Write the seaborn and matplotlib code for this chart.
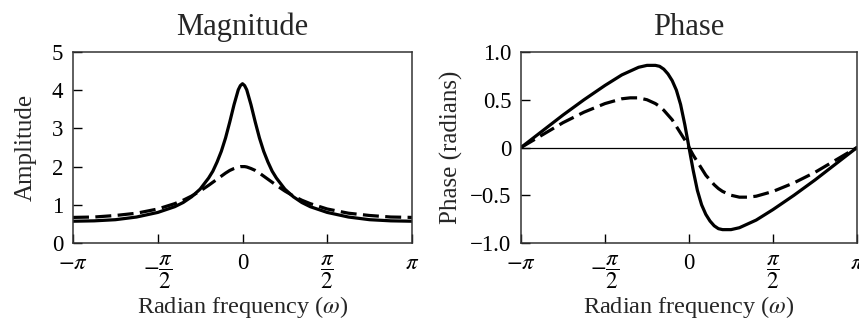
import numpy as np
import pandas as pd
import matplotlib
matplotlib.use("Agg")
import matplotlib.pyplot as plt
import seaborn as sns

# ---- data ----
# frequency sample positions, in units of pi
omega_frac = [-1.0, -0.875, -0.75, -0.625, -0.5, -0.4, -0.35, -0.3, -0.25, -0.2,
              -0.175, -0.15, -0.125, -0.1, -0.075, -0.05, -0.025, -0.0125, 0.0,
              0.0125, 0.025, 0.05, 0.075, 0.1, 0.125, 0.15, 0.175, 0.2, 0.25,
              0.3, 0.35, 0.4, 0.5, 0.625, 0.75, 0.875, 1.0]

mag_solid = [0.57, 0.58, 0.61, 0.68, 0.80, 0.95, 1.06, 1.21, 1.41, 1.70,
             1.88, 2.12, 2.40, 2.75, 3.17, 3.62, 4.01, 4.12, 4.17,
             4.12, 4.01, 3.62, 3.17, 2.75, 2.40, 2.12, 1.88, 1.70, 1.41,
             1.21, 1.06, 0.95, 0.80, 0.68, 0.61, 0.58, 0.57]
mag_dashed = [0.67, 0.68, 0.72, 0.78, 0.89, 1.03, 1.12, 1.23, 1.36, 1.51,
              1.59, 1.67, 1.75, 1.83, 1.90, 1.95, 1.99, 2.00, 2.00,
              2.00, 1.99, 1.95, 1.90, 1.83, 1.75, 1.67, 1.59, 1.51, 1.36,
              1.23, 1.12, 1.03, 0.89, 0.78, 0.72, 0.68, 0.67]

phase_solid = [0.0, 0.17, 0.34, 0.50, 0.65, 0.76, 0.80, 0.84, 0.86, 0.86,
               0.85, 0.82, 0.77, 0.70, 0.60, 0.45, 0.24, 0.12, 0.0,
               -0.12, -0.24, -0.45, -0.60, -0.70, -0.77, -0.82, -0.85, -0.86, -0.86,
               -0.84, -0.80, -0.76, -0.65, -0.50, -0.34, -0.17, 0.0]
phase_dashed = [0.0, 0.13, 0.26, 0.37, 0.46, 0.51, 0.52, 0.52, 0.50, 0.46,
                0.43, 0.39, 0.34, 0.29, 0.22, 0.15, 0.08, 0.04, 0.0,
                -0.04, -0.08, -0.15, -0.22, -0.29, -0.34, -0.39, -0.43, -0.46, -0.50,
                -0.52, -0.52, -0.51, -0.46, -0.37, -0.26, -0.13, 0.0]

x_tick_frac = [-1.0, -0.5, 0.0, 0.5, 1.0]
x_tick_labels = [r"$-\pi$", r"$-\dfrac{\pi}{2}$", "0", r"$\dfrac{\pi}{2}$", r"$\pi$"]
mag_ticks = [0, 1, 2, 3, 4, 5]
mag_tick_labels = ["0", "1", "2", "3", "4", "5"]
phase_ticks = [-1.0, -0.5, 0.0, 0.5, 1.0]
phase_tick_labels = ["\u22121.0", "\u22120.5", "0", "0.5", "1.0"]

titles = ["Magnitude", "Phase"]
ylabels = ["Amplitude", "Phase (radians)"]
xlabel = r"Radian frequency ($\omega$)"

# ---- build tables ----
omega = np.array(omega_frac) * np.pi
n = len(omega)
df = pd.DataFrame({
    "omega": np.concatenate([omega, omega]),
    "mag": mag_solid + mag_dashed,
    "phase": phase_solid + phase_dashed,
    "curve": ["solid"] * n + ["dashed"] * n,
})

sns.set_style("ticks")
plt.rcParams["font.family"] = ["Liberation Serif", "DejaVu Serif"]
plt.rcParams["mathtext.fontset"] = "stix"
plt.rcParams["axes.linewidth"] = 1.1

fig = plt.figure(figsize=(8.59, 3.2), dpi=100)
ax1 = fig.add_axes([73 / 859, 1 - 243 / 320, (412 - 73) / 859, (243 - 52) / 320])
ax2 = fig.add_axes([521 / 859, 1 - 243 / 320, (857 - 521) / 859, (243 - 52) / 320])

dash_map = {"solid": "", "dashed": (5, 2)}

sns.lineplot(data=df, x="omega", y="mag", style="curve", dashes=dash_map,
             color="black", linewidth=2.3, legend=False, ax=ax1, sort=False)
ax2.axhline(0, color="black", linewidth=0.9, zorder=1)
sns.lineplot(data=df, x="omega", y="phase", style="curve", dashes=dash_map,
             color="black", linewidth=2.3, legend=False, ax=ax2, sort=False)

xt = np.array(x_tick_frac) * np.pi
for ax, title, yl in zip([ax1, ax2], titles, ylabels):
    ax.set_xlim(-np.pi, np.pi)
    ax.set_xticks(xt)
    ax.set_xticklabels(x_tick_labels)
    ax.set_title(title, fontsize=22, pad=12)
    ax.set_xlabel(xlabel, fontsize=17.5, labelpad=2.5)
    ax.set_ylabel(yl, fontsize=18)
    ax.tick_params(direction="in", length=6.5, width=1.0, labelsize=16.5,
                   colors="black", top=False, right=False)
    ax.tick_params(axis="x", pad=7.5)
    ax.tick_params(axis="y", pad=7)
    for s in ax.spines.values():
        s.set_color("#333333")

ax1.set_ylim(0, 5)
ax1.set_yticks(mag_ticks)
ax1.set_yticklabels(mag_tick_labels)
ax1.yaxis.labelpad = 11

ax2.set_ylim(-1.0, 1.0)
ax2.set_yticks(phase_ticks)
ax2.set_yticklabels(phase_tick_labels)
ax2.yaxis.labelpad = 5

fig.savefig("out.png", dpi=100)
